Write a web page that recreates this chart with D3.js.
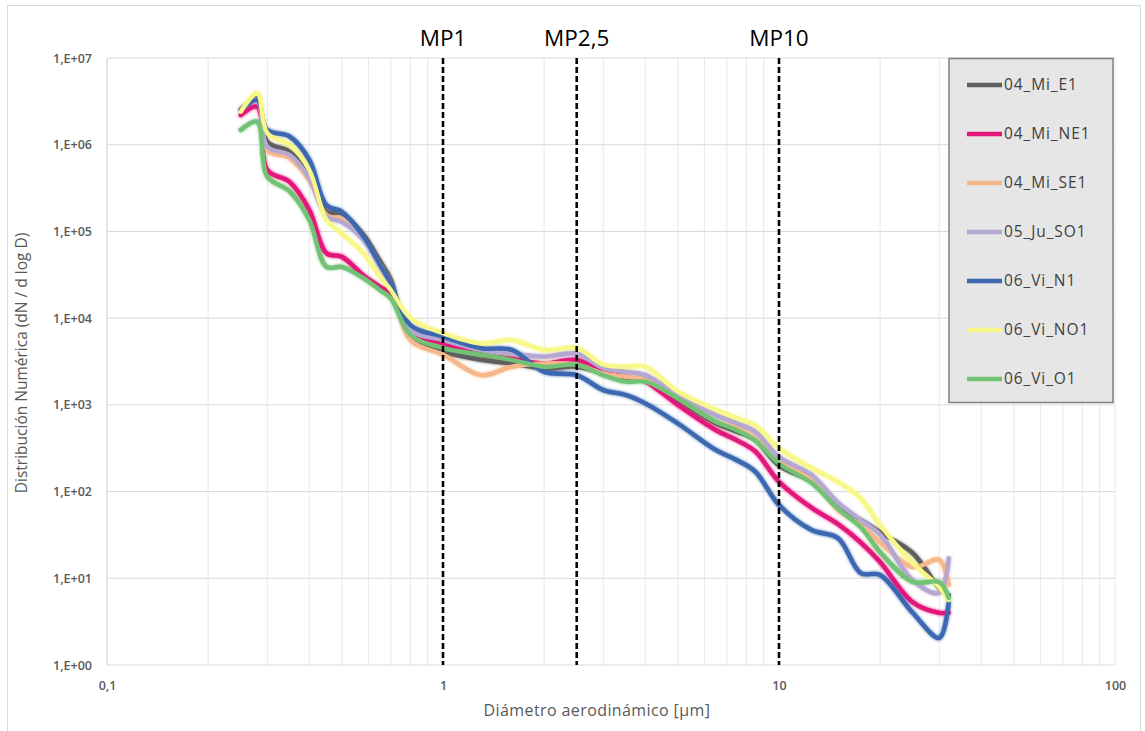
<!DOCTYPE html>
<html>
<head>
<meta charset="utf-8">
<script src="https://cdn.jsdelivr.net/npm/d3@7"></script>
<style>
  html, body { margin: 0; padding: 0; background: #fff; }
  svg { display: block; }
  text { font-family: "Open Sans", "Noto Sans", sans-serif; }
</style>
</head>
<body>
<svg id="chart" width="1145" height="731"></svg>
<script>
// Particle diameters of the counter channels (µm)
const diametro = [0.25, 0.28, 0.3, 0.35, 0.4, 0.45, 0.5, 0.58, 0.65, 0.7, 0.8, 1, 1.3, 1.6, 2, 2.5,
                  3, 3.5, 4, 5, 6.5, 7.5, 8.5, 10, 12.5, 15, 17.5, 20, 25, 30, 32];

// dN/dlogD per sampling site
const mi_E1  = [2.56e6, 3.43e6, 1.08e6, 8.3e5, 4.5e5, 1.69e5, 1.62e5, 9.1e4, 4.5e4, 2.75e4, 5.8e3, 4.1e3, 3.3e3, 3.0e3, 2.64e3, 2.75e3,
                2.3e3, 2.0e3, 1.93e3, 1.14e3, 610, 490, 390, 200, 129, 66, 47, 34, 19.5, 7.7, 6.4];
const mi_NE1 = [2.2e6, 2.74e6, 5.1e5, 3.7e5, 1.77e5, 5.6e4, 5.1e4, 3.1e4, 2.3e4, 1.93e4, 7.0e3, 5.1e3, 3.8e3, 3.4e3, 3.0e3, 3.3e3,
                2.4e3, 2.1e3, 1.85e3, 1.0e3, 510, 390, 290, 130, 65, 42, 26, 15.4, 5.3, 4.0, 4.0];
const mi_SE1 = [2.47e6, 3.28e6, 8.7e5, 7.0e5, 3.9e5, 1.55e5, 1.36e5, 8.3e4, 4.1e4, 2.5e4, 5.6e3, 3.8e3, 2.2e3, 2.75e3, 3.0e3, 2.9e3,
                2.3e3, 2.1e3, 1.93e3, 1.19e3, 640, 540, 410, 220, 136, 61, 41, 26, 13.5, 16.3, 8.4];
const ju_SO1 = [2.47e6, 3.34e6, 9.5e5, 7.6e5, 4.1e5, 1.48e5, 1.29e5, 8.0e4, 3.9e4, 2.4e4, 7.3e3, 5.6e3, 4.3e3, 3.9e3, 3.6e3, 3.9e3,
                2.64e3, 2.4e3, 2.2e3, 1.3e3, 760, 610, 490, 250, 155, 74, 47, 32, 9.5, 6.8, 17];
const vi_N1  = [2.47e6, 3.28e6, 1.48e6, 1.24e6, 6.7e5, 2.0e5, 1.69e5, 8.7e4, 4.1e4, 2.5e4, 8.3e3, 6.1e3, 4.5e3, 4.3e3, 2.4e3, 2.2e3,
                1.48e3, 1.3e3, 1.04e3, 610, 300, 230, 170, 70, 36, 29, 11.5, 10.9, 4.0, 2.05, 5.3];
const vi_NO1 = [2.4e6, 3.92e6, 1.36e6, 9.9e5, 5.1e5, 1.36e5, 9.5e4, 5.6e4, 3.0e4, 2.1e4, 1.0e4, 6.7e3, 5.1e3, 5.6e3, 4.3e3, 4.5e3,
                2.9e3, 2.75e3, 2.75e3, 1.42e3, 870, 700, 580, 315, 187, 129, 84, 41, 15, 7.9, 5.6];
const vi_O1  = [1.48e6, 1.84e6, 4.3e5, 2.9e5, 1.36e5, 3.9e4, 3.9e4, 2.9e4, 2.1e4, 1.69e4, 6.4e3, 4.5e3, 3.8e3, 3.3e3, 2.75e3, 2.9e3,
                2.2e3, 1.85e3, 1.85e3, 1.19e3, 640, 510, 390, 210, 126, 63, 39, 20, 9.1, 9.0, 5.9];

const seriesNames = ["04_Mi_E1", "04_Mi_NE1", "04_Mi_SE1", "05_Ju_SO1", "06_Vi_N1", "06_Vi_NO1", "06_Vi_O1"];
const seriesValues = [mi_E1, mi_NE1, mi_SE1, ju_SO1, vi_N1, vi_NO1, vi_O1];
const seriesColors = ["#5e5e5e", "#e3147c", "#f6b88a", "#b4a8d2", "#3b68b0", "#f8f78a", "#72c274"];

// Size-fraction cut points
const cortes = [1, 2.5, 10];
const cortesLabels = ["MP1", "MP2,5", "MP10"];

const xTicks = [0.1, 1, 10, 100];
const xTickLabels = ["0,1", "1", "10", "100"];
const yTicks = [1, 1e1, 1e2, 1e3, 1e4, 1e5, 1e6, 1e7];
const yTickLabels = ["1,E+00", "1,E+01", "1,E+02", "1,E+03", "1,E+04", "1,E+05", "1,E+06", "1,E+07"];

const plot = { left: 107, right: 1115, top: 58, bottom: 665 };

const svg = d3.select("#chart");

// outer chart frame
svg.append("rect")
  .attr("x", 7.5).attr("y", 5.5).attr("width", 1133).attr("height", 732)
  .attr("fill", "#fff").attr("stroke", "#d9d9d9");

const x = d3.scaleLog().domain([0.1, 100]).range([plot.left, plot.right]);
const y = d3.scaleLog().domain([1, 1e7]).range([plot.bottom, plot.top]);

// soft halo around the data lines
const defs = svg.append("defs");
const glow = defs.append("filter").attr("id", "halo")
  .attr("x", "-5%").attr("y", "-5%").attr("width", "110%").attr("height", "110%");
glow.append("feGaussianBlur").attr("in", "SourceGraphic").attr("stdDeviation", 1.6).attr("result", "b");
const merge = glow.append("feMerge");
merge.append("feMergeNode").attr("in", "b");
merge.append("feMergeNode").attr("in", "SourceGraphic");

// vertical grid: every 1..9 step of each decade
const minor = [];
for (let e = -1; e < 2; e++) for (let k = 1; k <= 9; k++) minor.push(k * Math.pow(10, e));
minor.push(100);
svg.append("g").selectAll("line").data(minor).join("line")
  .attr("x1", d => x(d)).attr("x2", d => x(d))
  .attr("y1", plot.top).attr("y2", plot.bottom)
  .attr("stroke", "#e8e8e8").attr("stroke-width", 1);

// horizontal grid at each decade
svg.append("g").selectAll("line").data(yTicks).join("line")
  .attr("x1", plot.left).attr("x2", plot.right)
  .attr("y1", d => y(d)).attr("y2", d => y(d))
  .attr("stroke", "#d9d9d9").attr("stroke-width", 1);

// left axis line
svg.append("line")
  .attr("x1", plot.left).attr("x2", plot.left)
  .attr("y1", plot.top).attr("y2", plot.bottom)
  .attr("stroke", "#d9d9d9");

// Y axis labels
const yAxis = d3.axisLeft(y).tickValues(yTicks)
  .tickFormat((d, i) => yTickLabels[i]).tickSize(0).tickPadding(15);
svg.append("g").attr("transform", `translate(${plot.left},0)`).call(yAxis)
  .call(g => g.select(".domain").remove())
  .selectAll("text")
  .attr("font-family", "'Open Sans', sans-serif")
  .attr("font-size", 12.5).attr("font-weight", 600).attr("fill", "#595959");

// X axis labels
const xAxis = d3.axisBottom(x).tickValues(xTicks)
  .tickFormat((d, i) => xTickLabels[i]).tickSize(0).tickPadding(16);
svg.append("g").attr("transform", `translate(0,${plot.bottom})`).call(xAxis)
  .call(g => g.select(".domain").remove())
  .selectAll("text")
  .attr("font-family", "'Open Sans', sans-serif")
  .attr("font-size", 12.5).attr("font-weight", 600).attr("fill", "#595959");

// axis titles
svg.append("text")
  .attr("x", 597).attr("y", 716)
  .attr("text-anchor", "middle")
  .attr("font-size", 16).attr("letter-spacing", 0.4).attr("fill", "#595959")
  .text("Diámetro aerodinámico [µm]");

svg.append("text")
  .attr("transform", "translate(27,363) rotate(-90)")
  .attr("text-anchor", "middle")
  .attr("font-size", 15.5).attr("fill", "#595959")
  .text("Distribución Numérica (dN / d log D)");

// data lines
const line = d3.line()
  .x(d => x(d[0])).y(d => y(d[1]))
  .curve(d3.curveCatmullRom.alpha(0.5));

svg.append("g").attr("filter", "url(#halo)")
  .selectAll("path").data(seriesValues).join("path")
  .attr("d", vals => line(diametro.map((dm, i) => [dm, vals[i]])))
  .attr("fill", "none")
  .attr("stroke", (d, i) => seriesColors[i])
  .attr("stroke-width", 4.4)
  .attr("stroke-linejoin", "round")
  .attr("stroke-linecap", "round");

// cut-point markers
svg.append("g").selectAll("line").data(cortes).join("line")
  .attr("x1", d => x(d)).attr("x2", d => x(d))
  .attr("y1", plot.top).attr("y2", plot.bottom)
  .attr("stroke", "#000").attr("stroke-width", 2.6)
  .attr("stroke-dasharray", "6,3");

svg.append("g").selectAll("text").data(cortes).join("text")
  .attr("x", d => x(d)).attr("y", 46)
  .attr("text-anchor", "middle")
  .attr("font-size", 22.5).attr("fill", "#000")
  .text((d, i) => cortesLabels[i]);

// legend
const lg = svg.append("g");
lg.append("rect")
  .attr("x", 949).attr("y", 58.5).attr("width", 164).attr("height", 344)
  .attr("fill", "#e6e6e6").attr("stroke", "#7f7f7f").attr("stroke-width", 1.5);
const items = lg.selectAll("g").data(seriesNames).join("g")
  .attr("transform", (d, i) => `translate(0,${85 + i * 49})`);
items.append("line")
  .attr("x1", 967).attr("x2", 1002).attr("y1", 0).attr("y2", 0)
  .attr("stroke", (d, i) => seriesColors[i]).attr("stroke-width", 4.4);
items.append("text")
  .attr("x", 1004).attr("y", 0).attr("dy", "0.35em")
  .attr("font-size", 15.5).attr("fill", "#404040")
  .attr("letter-spacing", 0.9)
  .text(d => d);
</script>
</body>
</html>
